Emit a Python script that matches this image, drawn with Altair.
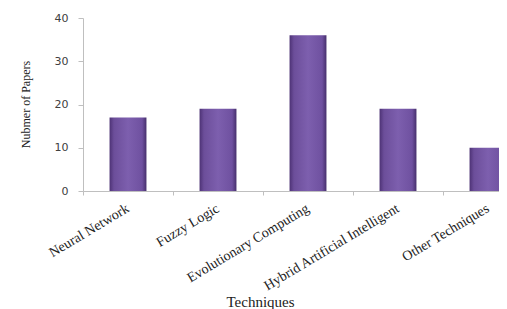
import altair as alt
import pandas as pd

techniques = ["Neural Network", "Fuzzy Logic", "Evolutionary Computing",
              "Hybrid Artificial Intelligent", "Other Techniques"]
papers = [17, 19, 36, 19, 10]
y_ticks = [0, 10, 20, 30, 40]

df = pd.DataFrame({"Techniques": techniques, "Papers": papers})

grad = alt.LinearGradient(
    gradient="linear", x1=0, x2=1, y1=0, y2=0,
    stops=[
        alt.GradientStop(color="#4d3275", offset=0),
        alt.GradientStop(color="#6c4e9a", offset=0.12),
        alt.GradientStop(color="#7d5fae", offset=0.5),
        alt.GradientStop(color="#6f51a0", offset=0.88),
        alt.GradientStop(color="#46306c", offset=1),
    ],
)

chart = alt.Chart(df).mark_bar(
    color=grad, width=alt.RelativeBandSize(0.41)
).encode(
    x=alt.X("Techniques:N", sort=techniques,
            scale=alt.Scale(range=[0, 450], paddingInner=0, paddingOuter=0),
            axis=alt.Axis(title="Techniques", labelAngle=329, labelAlign="right",
                          labelBaseline="middle", labelPadding=12, bandPosition=0,
                          tickSize=4, tickColor="#bfbfbf", domainColor="#bfbfbf",
                          labelFont="Liberation Serif", labelFontSize=14,
                          labelColor="#222222", titleFont="Liberation Serif",
                          titleFontSize=15, titleFontWeight="normal",
                          titleColor="#222222", titleX=177, titleY=103,
                          titleBaseline="top", titleAlign="center")),
    y=alt.Y("Papers:Q", scale=alt.Scale(domain=[0, 40]),
            axis=alt.Axis(title="Nubmer of Papers", values=y_ticks, grid=False,
                          tickSize=5, tickColor="#bfbfbf", domainColor="#bfbfbf",
                          labelFont="DejaVu Sans", labelFontSize=11,
                          labelColor="#404040", labelPadding=10,
                          titleFont="Liberation Serif", titleFontSize=12,
                          titleFontWeight="normal", titleColor="#222222",
                          titleAngle=270, titleX=-58, titleY=86,
                          titleAlign="center", titleBaseline="middle")),
).properties(
    width=416, height=173,
    autosize=alt.AutoSizeParams(type="none"),
    padding={"left": 75, "top": 10, "right": 0, "bottom": 118},
).configure_view(stroke=None)

chart.save("out.html", embed_options={"renderer": "svg", "actions": False})
